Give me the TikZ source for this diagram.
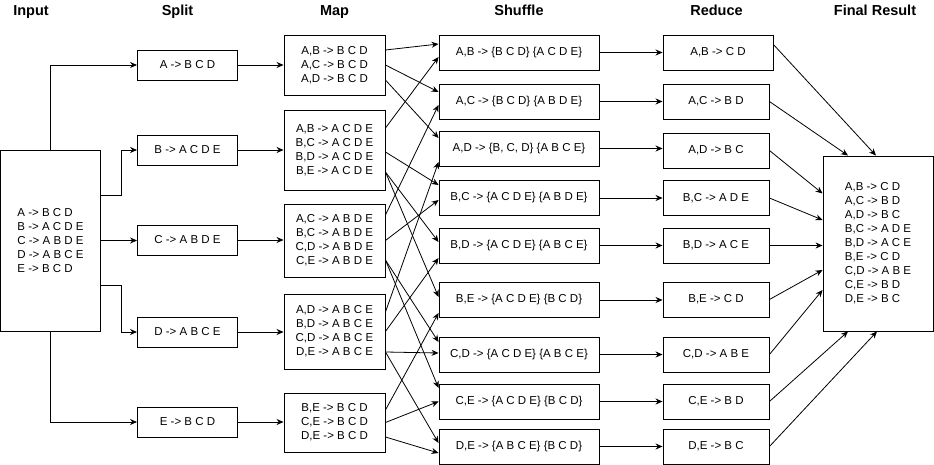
\documentclass[tikz,border=0pt]{standalone}
\usepackage{fontspec}
\setmainfont{Liberation Sans}
\usetikzlibrary{arrows.meta}

\tikzset{
  block/.style={draw, line width=0.9pt, inner sep=2pt,
    font=\fontsize{11.5}{14}\selectfont, align=center},
  title/.style={font=\fontsize{14.5}{16}\selectfont\bfseries, anchor=base},
  link/.style={line width=0.8pt, -{Stealth[length=7pt,width=6pt]}},
}

\begin{document}
\begin{tikzpicture}[x=1pt,y=-1pt]
\useasboundingbox (0,0) rectangle (934,465);

% column titles
\node[title] (tin) at (31,15.5) {Input};
\node[title] (tsplit) at (177.5,15.5) {Split};
\node[title] (tmap) at (334.5,15.5) {Map};
\node[title] (tshuf) at (519,15.5) {Shuffle};
\node[title] (tred) at (716.5,15.5) {Reduce};
\node[title] (tres) at (875,15.5) {Final Result};

% input
\node[block, align=left, minimum width=100pt, minimum height=181pt] (in) at (50.5,240.5)
  {A -> B C D\\B -> A C D E\\C -> A B D E\\D -> A B C E\\E -> B C D};

% split
\node[block, minimum width=100pt, minimum height=30pt] (sa) at (187.5,65) {A -> B C D};
\node[block, minimum width=100pt, minimum height=30pt] (sb) at (187.5,150) {B -> A C D E};
\node[block, minimum width=100pt, minimum height=30pt] (sc) at (187.5,240) {C -> A B D E};
\node[block, minimum width=100pt, minimum height=30pt] (sd) at (187.5,332) {D -> A B C E};
\node[block, minimum width=100pt, minimum height=30pt] (se) at (187.5,422) {E -> B C D};

% map
\node[block, minimum width=101pt, minimum height=60pt] (m1) at (334.5,65)
  {A,B -> B C D\\A,C -> B C D\\A,D -> B C D};
\node[block, minimum width=101pt, minimum height=80pt] (m2) at (334.5,150)
  {A,B -> A C D E\\B,C -> A C D E\\B,D -> A C D E\\B,E -> A C D E};
\node[block, minimum width=101pt, minimum height=73pt] (m3) at (334.5,240.5)
  {A,C -> A B D E\\B,C -> A B D E\\C,D -> A B D E\\C,E -> A B D E};
\node[block, minimum width=101pt, minimum height=75pt] (m4) at (334.5,331.5)
  {A,D -> A B C E\\B,D -> A B C E\\C,D -> A B C E\\D,E -> A B C E};
\node[block, minimum width=101pt, minimum height=59pt] (m5) at (334.5,422.5)
  {B,E -> B C D\\C,E -> B C D\\D,E -> B C D};

% shuffle
\node[block, minimum width=160pt, minimum height=35pt] (sh1) at (519,52.5) {A,B -> \{B C D\} \{A C D E\}};
\node[block, minimum width=160pt, minimum height=35pt] (sh2) at (519,101.5) {A,C -> \{B C D\} \{A B D E\}};
\node[block, minimum width=160pt, minimum height=35pt] (sh3) at (519,148.5) {A,D -> \{B, C, D\} \{A B C E\}};
\node[block, minimum width=160pt, minimum height=35pt] (sh4) at (519,198) {B,C -> \{A C D E\} \{A B D E\}};
\node[block, minimum width=160pt, minimum height=35pt] (sh5) at (519,245.5) {B,D -> \{A C D E\} \{A B C E\}};
\node[block, minimum width=160pt, minimum height=35pt] (sh6) at (519,300) {B,E -> \{A C D E\} \{B C D\}};
\node[block, minimum width=160pt, minimum height=35pt] (sh7) at (519,354.5) {C,D -> \{A C D E\} \{A B C E\}};
\node[block, minimum width=160pt, minimum height=35pt] (sh8) at (519,401.5) {C,E -> \{A C D E\} \{B C D\}};
\node[block, minimum width=160pt, minimum height=35pt] (sh9) at (519,446.5) {D,E -> \{A B C E\} \{B C D\}};

% reduce
\node[block, minimum width=110pt, minimum height=35pt] (r1) at (718,52.5) {A,B -> C D};
\node[block, minimum width=106pt, minimum height=35pt] (r2) at (716,101.5) {A,C -> B D};
\node[block, minimum width=106pt, minimum height=35pt] (r3) at (716,150.5) {A,D -> B C};
\node[block, minimum width=106pt, minimum height=35pt] (r4) at (716,198) {B,C -> A D E};
\node[block, minimum width=106pt, minimum height=35pt] (r5) at (716,245.5) {B,D -> A C E};
\node[block, minimum width=106pt, minimum height=35pt] (r6) at (716,299.5) {B,E -> C D};
\node[block, minimum width=106pt, minimum height=35pt] (r7) at (716,354.5) {C,D -> A B E};
\node[block, minimum width=106pt, minimum height=35pt] (r8) at (716,401.5) {C,E -> B D};
\node[block, minimum width=106pt, minimum height=35pt] (r9) at (716,446.5) {D,E -> B C};

% final result
\node[block, align=left, minimum width=110pt, minimum height=175pt] (res) at (878,243.5)
  {A,B -> C D\\A,C -> B D\\A,D -> B C\\B,C -> A D E\\B,D -> A C E\\B,E -> C D\\C,D -> A B E\\C,E -> B D\\D,E -> B C};

% input -> split
\draw[link] (in.north) |- (sa.west);
\draw[link] ([yshift=45pt]in.east) -- ++(20,0) |- (sb.west);
\draw[link] (in.east) -- (in.east -| sc.west);
\draw[link] ([yshift=-45pt]in.east) -- ++(20,0) |- (sd.west);
\draw[link] (in.south) |- (se.west);

% split -> map
\draw[link] (sa.east) -- (sa.east -| m1.west);
\draw[link] (sb.east) -- (sb.east -| m2.west);
\draw[link] (sc.east) -- (sc.east -| m3.west);
\draw[link] (sd.east) -- (sd.east -| m4.west);
\draw[link] (se.east) -- (se.east -| m5.west);

% map -> shuffle
\draw[link] ([yshift=15pt]m1.east) -- ([yshift=8.5pt]sh1.west);
\draw[link] (m1.east) -- ([yshift=9.5pt]sh2.west);
\draw[link] ([yshift=-15pt]m1.east) -- ([yshift=10.5pt]sh3.west);
\draw[link] ([yshift=22pt]m2.east) -- ([yshift=-4.5pt]sh1.west);
\draw[link] ([yshift=-2pt]m2.east) -- ([yshift=13pt]sh4.west);
\draw[link] ([yshift=-22pt]m2.east) -- ([yshift=3.5pt]sh5.west);
\draw[link] ([yshift=-22pt]m2.east) -- ([yshift=3pt]sh6.west);
\draw[link] ([yshift=25.5pt]m3.east) -- ([yshift=-3.5pt]sh2.west);
\draw[link] (m3.east) -- ([yshift=-2pt]sh4.west);
\draw[link] ([yshift=-19.5pt]m3.east) -- ([yshift=12.5pt]sh7.west);
\draw[link] ([yshift=-19.5pt]m3.east) -- ([yshift=13.5pt]sh8.west);
\draw[link] ([yshift=19.5pt]m4.east) -- ([yshift=-13.5pt]sh3.west);
\draw[link] (m4.east) -- ([yshift=-12.5pt]sh5.west);
\draw[link] ([yshift=-20.5pt]m4.east) -- ([yshift=1.5pt]sh7.west);
\draw[link] ([yshift=-20.5pt]m4.east) -- ([yshift=3.5pt]sh9.west);
\draw[link] ([yshift=12.5pt]m5.east) -- ([yshift=-13pt]sh6.west);
\draw[link] (m5.east) -- (sh8.west);
\draw[link] ([yshift=-14.5pt]m5.east) -- ([yshift=-6.5pt]sh9.west);

% shuffle -> reduce
\draw[link] (sh1.east) -- (sh1.east -| r1.west);
\draw[link] (sh2.east) -- (sh2.east -| r2.west);
\draw[link] (sh3.east) -- (sh3.east -| r3.west);
\draw[link] (sh4.east) -- (sh4.east -| r4.west);
\draw[link] (sh5.east) -- (sh5.east -| r5.west);
\draw[link] (sh6.east) -- (sh6.east -| r6.west);
\draw[link] (sh7.east) -- (sh7.east -| r7.west);
\draw[link] (sh8.east) -- (sh8.east -| r8.west);
\draw[link] (sh9.east) -- (sh9.east -| r9.west);

% reduce -> final result
\draw[link] ([yshift=-10pt]r1.north east) -- ([xshift=-2pt]res.north);
\draw[link] (r2.east) -- ([xshift=-30pt]res.north);
\draw[link] (r3.east) -- ([yshift=50pt]res.west);
\draw[link] (r4.east) -- ([yshift=23.5pt]res.west);
\draw[link] (r5.east) -- (r5.east -| res.west);
\draw[link] (r6.east) -- ([yshift=-26.5pt]res.west);
\draw[link] (r7.east) -- ([yshift=-46.5pt]res.west);
\draw[link] (r8.east) -- ([xshift=-30pt]res.south);
\draw[link] (r9.east) -- ([xshift=-1pt]res.south);
\end{tikzpicture}
\end{document}
